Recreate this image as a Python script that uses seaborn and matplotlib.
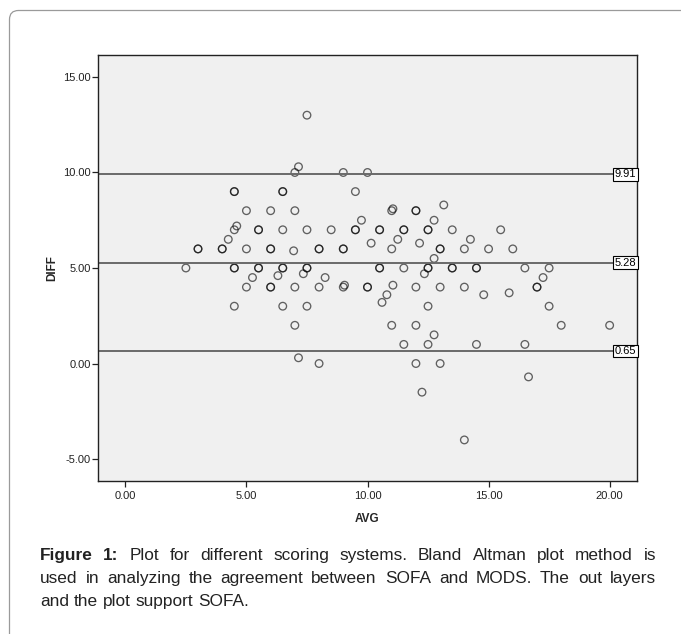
import pandas as pd
import seaborn as sns
import matplotlib.pyplot as plt
from matplotlib.patches import FancyBboxPatch
from matplotlib.transforms import IdentityTransform

# (AVG, DIFF) pairs; repeated pairs are overlapping points
avg = [7.5, 7.15, 7.0, 9.0, 10.0,
       4.5, 4.5, 6.5, 6.5, 9.5,
       13.15, 11.05,
       5.0, 6.0, 7.0, 11.0, 12.0, 12.0,
       9.75, 12.75, 4.6,
       4.5, 5.5, 5.5, 6.5, 7.5, 8.5, 9.5, 9.5, 10.5, 10.5, 11.5, 11.5, 12.5, 12.5, 13.5, 15.5,
       4.25, 11.25, 14.25, 10.15, 12.15,
       3.0, 3.0, 4.0, 4.0, 5.0, 6.0, 6.0, 8.0, 8.0, 9.0, 9.0, 11.0, 13.0, 13.0, 14.0, 15.0, 16.0,
       6.95, 12.75,
       2.5, 4.5, 4.5, 5.5, 5.5, 6.5, 6.5, 7.5, 7.5, 10.5, 10.5, 11.5, 12.5, 12.5, 13.5, 13.5,
       14.5, 14.5, 16.5, 17.5,
       7.35, 12.35, 6.3, 5.25, 8.25, 17.25, 9.05, 11.05,
       5.0, 6.0, 6.0, 7.0, 8.0, 9.0, 10.0, 10.0, 12.0, 13.0, 14.0, 17.0, 17.0,
       10.8, 14.8, 15.85, 10.6,
       4.5, 6.5, 7.5, 12.5, 17.5,
       7.0, 11.0, 12.0, 18.0, 20.0,
       12.75, 11.5, 12.5, 14.5, 16.5,
       7.15, 8.0, 12.0, 13.0,
       16.65, 12.25, 14.0]
diff = [13.0, 10.3, 10.0, 10.0, 10.0,
        9.0, 9.0, 9.0, 9.0, 9.0,
        8.3, 8.1,
        8.0, 8.0, 8.0, 8.0, 8.0, 8.0,
        7.5, 7.5, 7.2,
        7.0, 7.0, 7.0, 7.0, 7.0, 7.0, 7.0, 7.0, 7.0, 7.0, 7.0, 7.0, 7.0, 7.0, 7.0, 7.0,
        6.5, 6.5, 6.5, 6.3, 6.3,
        6.0, 6.0, 6.0, 6.0, 6.0, 6.0, 6.0, 6.0, 6.0, 6.0, 6.0, 6.0, 6.0, 6.0, 6.0, 6.0, 6.0,
        5.9, 5.5,
        5.0, 5.0, 5.0, 5.0, 5.0, 5.0, 5.0, 5.0, 5.0, 5.0, 5.0, 5.0, 5.0, 5.0, 5.0, 5.0,
        5.0, 5.0, 5.0, 5.0,
        4.7, 4.7, 4.6, 4.5, 4.5, 4.5, 4.1, 4.1,
        4.0, 4.0, 4.0, 4.0, 4.0, 4.0, 4.0, 4.0, 4.0, 4.0, 4.0, 4.0, 4.0,
        3.6, 3.6, 3.7, 3.2,
        3.0, 3.0, 3.0, 3.0, 3.0,
        2.0, 2.0, 2.0, 2.0, 2.0,
        1.5, 1.0, 1.0, 1.0, 1.0,
        0.3, 0.0, 0.0, 0.0,
        -0.7, -1.5, -4.0]

ref_lines = [9.91, 5.28, 0.65]
x_ticks = [0, 5, 10, 15, 20]
y_ticks = [-5, 0, 5, 10, 15]

caption = [
    "Figure 1: Plot for different scoring systems. Bland Altman plot method is",
    "used in analyzing the agreement between SOFA and MODS. The out layers",
    "and the plot support SOFA.",
]

df = pd.DataFrame({"AVG": avg, "DIFF": diff})

sns.set_style("ticks")
plt.rcParams["font.family"] = ["Liberation Sans", "DejaVu Sans"]

W, H = 681, 634
fig = plt.figure(figsize=(W / 100, H / 100), dpi=100)
ax = fig.add_axes([98 / W, 1 - 481 / H, 539 / W, 426 / H])
ax.set_facecolor("#f0f0f0")

sns.scatterplot(data=df, x="AVG", y="DIFF", ax=ax, s=30, marker="o",
                facecolor="none", edgecolor=(0, 0, 0, 0.6), linewidth=0.95)

for v in ref_lines:
    ax.axhline(v, color="#6a6a6a", lw=1.4, zorder=1)
    ax.text(21.1, v, f"{v:.2f}", ha="right", va="center", fontsize=8, color="black",
            bbox=dict(boxstyle="square,pad=0.12", fc="white", ec="black", lw=0.8), zorder=5)

ax.set_xlim(-1.13, 21.13)
ax.set_ylim(-6.15, 16.15)
ax.set_xticks(x_ticks)
ax.set_yticks(y_ticks)
ax.set_xticklabels([f"{t:.2f}" for t in x_ticks])
ax.set_yticklabels([f"{t:.2f}" for t in y_ticks])
ax.tick_params(direction="out", length=4, width=0.9, color="#222222",
               labelsize=8, labelcolor="#222222")
ax.tick_params(axis="y", pad=1)
ax.tick_params(axis="x", pad=3)
for side in ["left", "right", "top", "bottom"]:
    ax.spines[side].set_visible(True)
    ax.spines[side].set_color("#222222")
    ax.spines[side].set_linewidth(1.0)

ax.set_xlabel("AVG", fontsize=8.5, fontweight="bold", va="center")
ax.set_ylabel("DIFF", fontsize=8.5, fontweight="bold", va="center")
ax.xaxis.set_label_coords(0.5, (481 - 519) / 426)
ax.yaxis.set_label_coords((52 - 98) / 539, 0.5)

# outer frame with rounded corners, cut by the image edge
frame = FancyBboxPatch((9.5, -60), 740, H - 10.5 + 60,
                       boxstyle="round,pad=0,rounding_size=9",
                       transform=IdentityTransform(), fc="none", ec="#9a9a9a", lw=0.9)
fig.patches.append(frame)

# caption, justified like the original
fig.canvas.draw()
renderer = fig.canvas.get_renderer()
x0, x1 = 40, 656
baselines = [560, 583, 606]
fs = 12.4
for i, line in enumerate(caption):
    words = line.split(" ")
    arts = []
    for j, w in enumerate(words):
        bold = i == 0 and j < 2
        t = fig.text(0, 1 - baselines[i] / H, w, fontsize=fs, color="#222222",
                     fontweight="bold" if bold else "normal", va="baseline", ha="left")
        arts.append(t)
    widths = [a.get_window_extent(renderer).width for a in arts]
    if i < len(caption) - 1:
        gap = (x1 - x0 - sum(widths)) / (len(words) - 1)
    else:
        gap = fs * 100 / 72 * 0.278
    x = x0
    for a, wd in zip(arts, widths):
        a.set_x(x / W)
        x += wd + gap

fig.savefig("out.png", dpi=100)
